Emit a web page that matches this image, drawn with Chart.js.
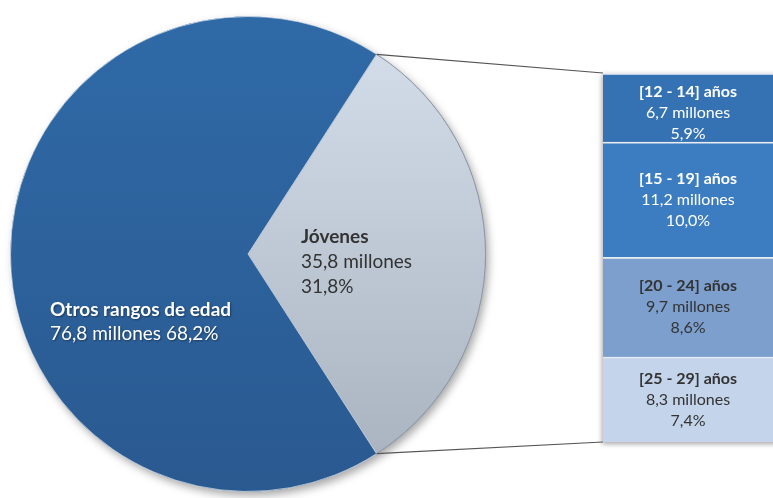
<!DOCTYPE html>
<html>
<head>
<meta charset="utf-8">
<script src="https://cdn.jsdelivr.net/npm/chart.js@4/dist/chart.umd.min.js"></script>
<style>
  html, body { margin: 0; padding: 0; background: #fff; }
  #wrap { position: relative; width: 773px; height: 498px; overflow: hidden; }
  #wrap canvas { position: absolute; left: 0; top: 0; }
</style>
</head>
<body>
<div id="wrap">
  <canvas id="pieChart" width="773" height="498"></canvas>
  <canvas id="barChart" width="773" height="498"></canvas>
</div>
<script>
// pie: jóvenes vs el resto
const pieLabels = ['Jóvenes', 'Otros rangos de edad'];
const pieValues = [35.8, 76.8];
const piePct = ['31,8%', '68,2%'];

// barra: desglose de los jóvenes
const barLabels = ['[12 - 14] años', '[15 - 19] años', '[20 - 24] años', '[25 - 29] años'];
const barValues = [6.7, 11.2, 9.7, 8.3];
const barPct = ['5,9%', '10,0%', '8,6%', '7,4%'];

const FONT = 'Lato, "Open Sans", sans-serif';

function millones(v) {
    return v.toFixed(1).replace('.', ',') + ' millones';
}

Chart.defaults.animation = false;
Chart.defaults.font.family = FONT;

// degradados (arriba -> abajo)
const pieColors = [['#d6e0ec', '#a7b1be'], ['#2f6aa7', '#2a5990']];
const barColors = [['#3572b4', '#295e9b'], ['#3c7cc0', '#2e66a6'], ['#7d9fcd', '#5e7eaf'], ['#c4d4eb', '#a3b6d4']];

function gradient(chart, top, bottom, cols) {
    const g = chart.ctx.createLinearGradient(0, top, 0, bottom);
    g.addColorStop(0, cols[0]);
    g.addColorStop(1, cols[1]);
    return g;
}

// sombra y textos de la torta
const pieText = {
    id: 'pieText',
    beforeDatasetsDraw(chart) {
        const ctx = chart.ctx;
        const arc = chart.getDatasetMeta(0).data[0];
        ctx.save();
        ctx.shadowColor = 'rgba(0,0,0,0.35)';
        ctx.shadowBlur = 8;
        ctx.shadowOffsetX = 3;
        ctx.shadowOffsetY = 4;
        ctx.beginPath();
        ctx.arc(arc.x, arc.y, arc.outerRadius, 0, Math.PI * 2);
        ctx.fillStyle = '#2a5990';
        ctx.fill();
        ctx.restore();
    },
    afterDatasetsDraw(chart) {
        const ctx = chart.ctx;
        const meta = chart.getDatasetMeta(0);
        const cx = meta.data[0].x, cy = meta.data[0].y;
        ctx.save();
        ctx.textAlign = 'left';
        ctx.textBaseline = 'middle';
        // Jóvenes
        ctx.fillStyle = '#333';
        ctx.font = 'bold 19px ' + FONT;
        ctx.fillText(pieLabels[0], cx + 53, cy - 17);
        ctx.font = '19px ' + FONT;
        ctx.fillText(millones(pieValues[0]), cx + 53, cy + 8);
        ctx.fillText(piePct[0], cx + 53, cy + 33);
        // Otros
        ctx.fillStyle = '#fff';
        ctx.shadowColor = 'rgba(0,0,0,0.4)';
        ctx.shadowBlur = 2;
        ctx.shadowOffsetX = 1;
        ctx.shadowOffsetY = 1;
        ctx.font = 'bold 19px ' + FONT;
        ctx.fillText(pieLabels[1], cx - 198, cy + 56);
        ctx.font = '19px ' + FONT;
        ctx.fillText(millones(pieValues[1]) + ' ' + piePct[1], cx - 198, cy + 80);
        ctx.restore();
    }
};

const pieChart = new Chart(document.getElementById('pieChart'), {
    type: 'pie',
    data: {
        labels: pieLabels,
        datasets: [{
            data: pieValues,
            backgroundColor: (c) => {
                const a = c.chart.chartArea;
                if (!a) return pieColors[c.dataIndex][0];
                return gradient(c.chart, a.top, a.bottom, pieColors[c.dataIndex]);
            },
            borderColor: ['#8f99a6', 'rgba(255,255,255,0.6)'],
            borderWidth: 1
        }]
    },
    options: {
        responsive: false,
        rotation: 90 - (pieValues[0] / (pieValues[0] + pieValues[1])) * 180,
        layout: { padding: { left: 10, top: 16, right: 287, bottom: 6 } },
        plugins: { legend: { display: false }, tooltip: { enabled: false } }
    },
    plugins: [pieText]
});

// líneas de conexión y textos de la barra
const barText = {
    id: 'barText',
    beforeDatasetsDraw(chart) {
        // sombra suave a la izquierda de la barra
        const ctx = chart.ctx;
        const first = chart.getDatasetMeta(0).data[0];
        const last = chart.getDatasetMeta(barValues.length - 1).data[0];
        const left = first.x - first.width / 2;
        ctx.save();
        ctx.shadowColor = 'rgba(0,0,0,0.35)';
        ctx.shadowBlur = 5;
        ctx.shadowOffsetX = -1;
        ctx.shadowOffsetY = 2;
        ctx.fillStyle = '#5e7eaf';
        ctx.fillRect(left, first.base, first.width + 40, last.y - first.base);
        ctx.restore();
    },
    afterDatasetsDraw(chart) {
        const ctx = chart.ctx;
        const arc = pieChart.getDatasetMeta(0).data[0];
        const a0 = arc.startAngle, a1 = arc.endAngle;
        const first = chart.getDatasetMeta(0).data[0];
        const last = chart.getDatasetMeta(barValues.length - 1).data[0];
        const left = first.x - first.width / 2;
        ctx.save();
        ctx.strokeStyle = '#555';
        ctx.lineWidth = 1.2;
        ctx.beginPath();
        ctx.moveTo(arc.x + arc.outerRadius * Math.cos(a0), arc.y + arc.outerRadius * Math.sin(a0));
        ctx.lineTo(left, first.base);
        ctx.moveTo(arc.x + arc.outerRadius * Math.cos(a1), arc.y + arc.outerRadius * Math.sin(a1));
        ctx.lineTo(left, last.y);
        ctx.stroke();

        ctx.textAlign = 'center';
        ctx.textBaseline = 'middle';
        barLabels.forEach((lab, i) => {
            const bar = chart.getDatasetMeta(i).data[0];
            const my = (bar.y + bar.base) / 2 + (i === 0 ? 5 : 0);
            const x = left + 85;
            ctx.fillStyle = i < 2 ? '#fff' : '#333';
            ctx.font = 'bold 16px ' + FONT;
            ctx.fillText(lab, x, my - 21);
            ctx.font = '16px ' + FONT;
            ctx.fillText(millones(barValues[i]), x, my);
            ctx.fillText(barPct[i], x, my + 21);
        });
        ctx.restore();
    }
};

new Chart(document.getElementById('barChart'), {
    type: 'bar',
    data: {
        labels: [''],
        datasets: barLabels.map((lab, i) => ({
            label: lab,
            data: [barValues[i]],
            backgroundColor: (c) => {
                const el = c.chart.getDatasetMeta(i).data[0];
                if (!el || el.base === undefined) return barColors[i][0];
                return gradient(c.chart, el.base, el.y, barColors[i]);
            },
            borderColor: 'rgba(255,255,255,0.85)',
            borderWidth: { top: 2, bottom: 0, left: 0, right: 0 },
            borderSkipped: false,
            categoryPercentage: 1,
            barPercentage: 1
        }))
    },
    options: {
        responsive: false,
        layout: { padding: { left: 603, top: 73, right: -30, bottom: 56 } },
        scales: {
            x: { display: false, stacked: true },
            y: { display: false, stacked: true, reverse: true, min: 0, max: barValues.reduce((s, v) => s + v, 0) }
        },
        plugins: { legend: { display: false }, tooltip: { enabled: false } }
    },
    plugins: [barText]
});
</script>
</body>
</html>
